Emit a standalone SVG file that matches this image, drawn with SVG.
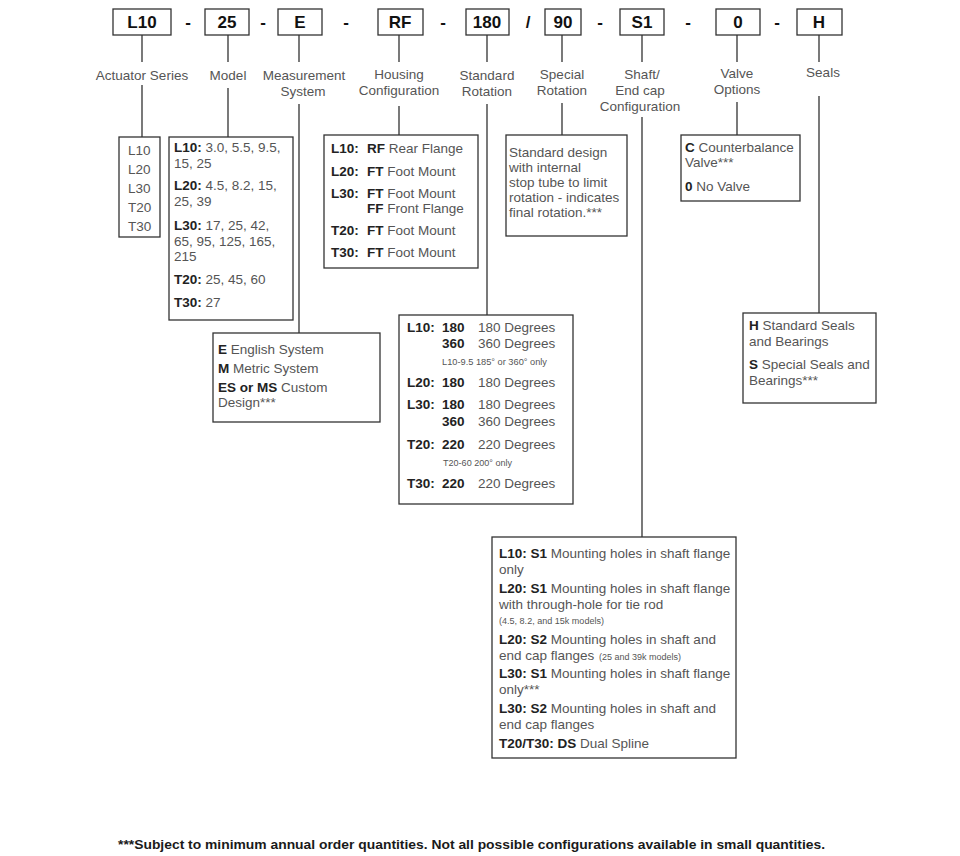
<svg xmlns="http://www.w3.org/2000/svg" width="960" height="856" viewBox="0 0 960 856">
<style>
text{font-family:"Liberation Sans",Arial,sans-serif;font-size:13.5px;fill:#555}
.b{font-weight:bold;fill:#222}
.c{font-size:17px;font-weight:bold;fill:#111;text-anchor:middle}
.m{text-anchor:middle}
.n{font-size:8.5px}
.box{fill:#fff;stroke:#333;stroke-width:1.3}
.ln{stroke:#333;stroke-width:1.3;fill:none}
.f{font-size:13px;font-weight:bold;fill:#1a1a1a}
</style>
<rect width="960" height="856" fill="#fff"/>
<g id="connectors">
<path class="ln" d="M142 35V62M142 85V137M228 35V62M228 88V137M299 35V62M299 104V333M399 35V62M399 106V135M487 35V62M487 104V315M562 35V62M562 103V135M642 35V62M642 117V537M737 35V62M737 102V135M819 35V62M819 96V313"/>
</g>
<g id="code">
<rect class="box" x="113" y="9" width="58" height="26"/><text class="c" x="142" y="28">L10</text>
<text class="c" x="188" y="28">-</text>
<rect class="box" x="205" y="9" width="44" height="26"/><text class="c" x="227" y="28">25</text>
<text class="c" x="263" y="28">-</text>
<rect class="box" x="278" y="9" width="44" height="26"/><text class="c" x="300" y="28">E</text>
<text class="c" x="346" y="28">-</text>
<rect class="box" x="378" y="9" width="45" height="26"/><text class="c" x="400" y="28">RF</text>
<text class="c" x="443" y="28">-</text>
<rect class="box" x="466" y="9" width="43" height="26"/><text class="c" x="487" y="28">180</text>
<text class="c" x="528" y="28">/</text>
<rect class="box" x="545" y="9" width="36" height="26"/><text class="c" x="563" y="28">90</text>
<text class="c" x="600" y="28">-</text>
<rect class="box" x="620" y="9" width="44" height="26"/><text class="c" x="642" y="28">S1</text>
<text class="c" x="688" y="28">-</text>
<rect class="box" x="716" y="9" width="44" height="26"/><text class="c" x="738" y="28">0</text>
<text class="c" x="777" y="28">-</text>
<rect class="box" x="797" y="9" width="45" height="26"/><text class="c" x="819" y="28">H</text>
</g>
<g id="labels">
<text class="m" x="142" y="80">Actuator Series</text>
<text class="m" x="228" y="80">Model</text>
<text class="m" x="304" y="80">Measurement</text><text class="m" x="303" y="96">System</text>
<text class="m" x="399" y="79">Housing</text><text class="m" x="399" y="95">Configuration</text>
<text class="m" x="487" y="80">Standard</text><text class="m" x="487" y="96">Rotation</text>
<text class="m" x="562" y="79">Special</text><text class="m" x="562" y="95">Rotation</text>
<text class="m" x="642" y="79">Shaft/</text><text class="m" x="640" y="95">End cap</text><text class="m" x="640" y="111">Configuration</text>
<text class="m" x="737" y="78">Valve</text><text class="m" x="737" y="94">Options</text>
<text class="m" x="823" y="77">Seals</text>
</g>
<g id="series">
<rect class="box" x="119" y="137" width="41" height="100"/>
<text x="128" y="155">L10</text><text x="128" y="174">L20</text><text x="128" y="193">L30</text><text x="128" y="212">T20</text><text x="128" y="231">T30</text>
</g>
<g id="model">
<rect class="box" x="169" y="137" width="124" height="183"/>
<text x="174" y="152"><tspan class="b">L10:</tspan> 3.0, 5.5, 9.5,</text>
<text x="174" y="168">15, 25</text>
<text x="174" y="190"><tspan class="b">L20:</tspan> 4.5, 8.2, 15,</text>
<text x="174" y="206">25, 39</text>
<text x="174" y="230"><tspan class="b">L30:</tspan> 17, 25, 42,</text>
<text x="174" y="246">65, 95, 125, 165,</text>
<text x="174" y="261">215</text>
<text x="174" y="284"><tspan class="b">T20:</tspan> 25, 45, 60</text>
<text x="174" y="307"><tspan class="b">T30:</tspan> 27</text>
</g>
<g id="measurement">
<rect class="box" x="213" y="333" width="167" height="89"/>
<text x="218" y="354"><tspan class="b">E</tspan> English System</text>
<text x="218" y="373"><tspan class="b">M</tspan> Metric System</text>
<text x="218" y="392"><tspan class="b">ES or MS</tspan> Custom</text>
<text x="218" y="407">Design***</text>
</g>
<g id="housing">
<rect class="box" x="324" y="135" width="154" height="133"/>
<text x="331" y="153" class="b">L10:</text><text x="367" y="153"><tspan class="b">RF</tspan> Rear Flange</text>
<text x="331" y="176" class="b">L20:</text><text x="367" y="176"><tspan class="b">FT</tspan> Foot Mount</text>
<text x="331" y="198" class="b">L30:</text><text x="367" y="198"><tspan class="b">FT</tspan> Foot Mount</text>
<text x="367" y="213"><tspan class="b">FF</tspan> Front Flange</text>
<text x="331" y="235" class="b">T20:</text><text x="367" y="235"><tspan class="b">FT</tspan> Foot Mount</text>
<text x="331" y="257" class="b">T30:</text><text x="367" y="257"><tspan class="b">FT</tspan> Foot Mount</text>
</g>
<g id="standard">
<rect class="box" x="399" y="315" width="174" height="189"/>
<text x="407" y="332" class="b">L10:</text><text x="442" y="332" class="b">180</text><text x="478" y="332">180 Degrees</text>
<text x="442" y="348" class="b">360</text><text x="478" y="348">360 Degrees</text>
<text x="442" y="365" class="n" textLength="105" lengthAdjust="spacingAndGlyphs">L10-9.5 185° or 360° only</text>
<text x="407" y="387" class="b">L20:</text><text x="442" y="387" class="b">180</text><text x="478" y="387">180 Degrees</text>
<text x="407" y="409" class="b">L30:</text><text x="442" y="409" class="b">180</text><text x="478" y="409">180 Degrees</text>
<text x="442" y="426" class="b">360</text><text x="478" y="426">360 Degrees</text>
<text x="407" y="449" class="b">T20:</text><text x="442" y="449" class="b">220</text><text x="478" y="449">220 Degrees</text>
<text x="443" y="466" class="n" textLength="69" lengthAdjust="spacingAndGlyphs">T20-60 200° only</text>
<text x="407" y="488" class="b">T30:</text><text x="442" y="488" class="b">220</text><text x="478" y="488">220 Degrees</text>
</g>
<g id="special">
<rect class="box" x="506" y="135" width="121" height="101"/>
<text x="509" y="157">Standard design</text>
<text x="509" y="172">with internal</text>
<text x="509" y="187">stop tube to limit</text>
<text x="509" y="202">rotation - indicates</text>
<text x="509" y="217">final rotation.***</text>
</g>
<g id="shaft">
<rect class="box" x="492" y="537" width="244" height="221"/>
<text x="499" y="558"><tspan class="b">L10: S1</tspan> Mounting holes in shaft flange</text>
<text x="499" y="574">only</text>
<text x="499" y="593"><tspan class="b">L20: S1</tspan> Mounting holes in shaft flange</text>
<text x="499" y="609">with through-hole for tie rod</text>
<text x="499" y="624" class="n" textLength="105" lengthAdjust="spacingAndGlyphs">(4.5, 8.2, and 15k models)</text>
<text x="499" y="644"><tspan class="b">L20: S2</tspan> Mounting holes in shaft and</text>
<text x="499" y="660">end cap flanges</text>
<text x="599" y="660" class="n" textLength="82" lengthAdjust="spacingAndGlyphs">(25 and 39k models)</text>
<text x="499" y="678"><tspan class="b">L30: S1</tspan> Mounting holes in shaft flange</text>
<text x="499" y="694">only***</text>
<text x="499" y="713"><tspan class="b">L30: S2</tspan> Mounting holes in shaft and</text>
<text x="499" y="729">end cap flanges</text>
<text x="499" y="748"><tspan class="b">T20/T30: DS</tspan> Dual Spline</text>
</g>
<g id="valve">
<rect class="box" x="681" y="135" width="119" height="66"/>
<text x="685" y="152"><tspan class="b">C</tspan> Counterbalance</text>
<text x="685" y="167">Valve***</text>
<text x="685" y="191"><tspan class="b">0</tspan> No Valve</text>
</g>
<g id="seals">
<rect class="box" x="743" y="313" width="133" height="90"/>
<text x="749" y="330"><tspan class="b">H</tspan> Standard Seals</text>
<text x="749" y="346">and Bearings</text>
<text x="749" y="369"><tspan class="b">S</tspan> Special Seals and</text>
<text x="749" y="385">Bearings***</text>
</g>
<text class="f" x="118" y="849" textLength="707" lengthAdjust="spacingAndGlyphs">***Subject to minimum annual order quantities. Not all possible configurations available in small quantities.</text>
</svg>
